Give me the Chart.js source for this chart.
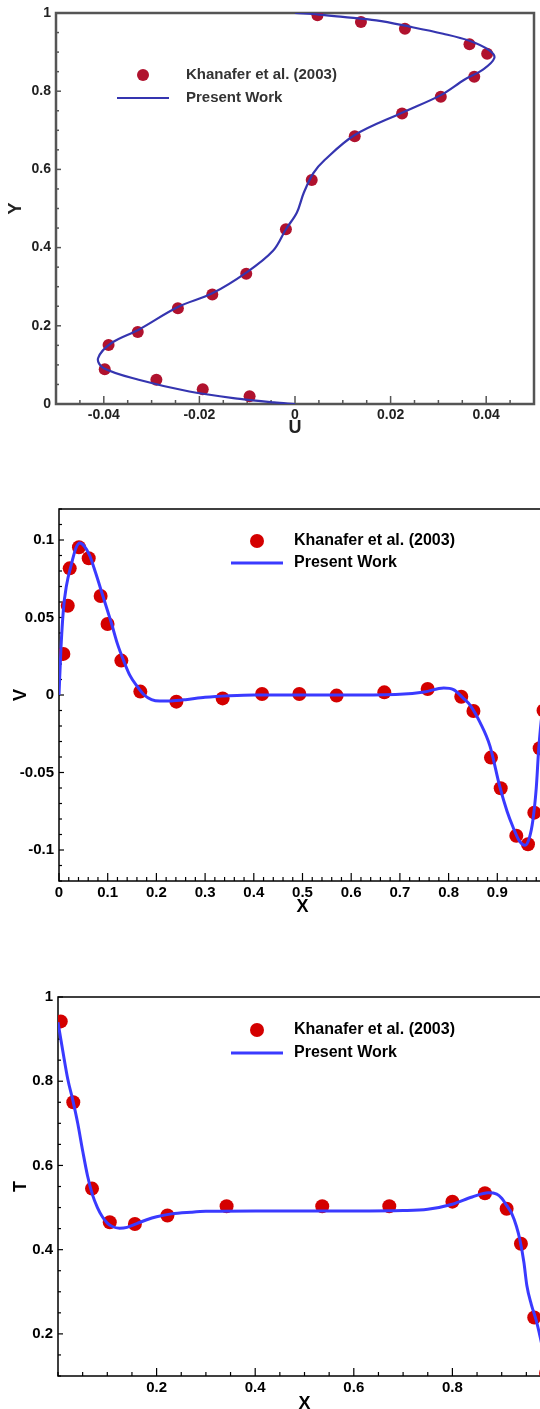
<!DOCTYPE html>
<html>
<head>
<meta charset="utf-8">
<title>Velocity and temperature profiles</title>
<script src="https://cdn.jsdelivr.net/npm/chart.js@4.4.1/dist/chart.umd.min.js"></script>
<style>
  html, body { margin: 0; padding: 0; background: #fff; overflow: hidden; width: 540px; height: 1409px; }
  .panel { position: absolute; left: 0; width: 540px; overflow: hidden; }
  .panel canvas { display: block; }
  #panelU { top: 0; height: 440px; }
  #panelV { top: 490px; height: 430px; }
  #panelT { top: 980px; height: 440px; }
  /* the U profile figure is a soft, low resolution scan */
  #uChart { filter: blur(0.6px); }
</style>
</head>
<body>
<div class="panel" id="panelU"><div style="position:relative;width:540px;height:440px"><canvas id="uChart"></canvas></div></div>
<div class="panel" id="panelV"><div style="position:relative;width:560px;height:430px"><canvas id="vChart"></canvas></div></div>
<div class="panel" id="panelT"><div style="position:relative;width:560px;height:440px"><canvas id="tChart"></canvas></div></div>

<script>
// ---- U velocity along the vertical mid-line ----
const refU = [0.0047, 0.0138, 0.0230, 0.0365, 0.0402, 0.0375, 0.0305, 0.0224, 0.0125, 0.0035,
              -0.0019, -0.0102, -0.0173, -0.0245, -0.0329, -0.0390, -0.0398, -0.0290, -0.0193, -0.0095];
const refY = [0.994, 0.977, 0.960, 0.920, 0.896, 0.837, 0.786, 0.743, 0.685, 0.573,
              0.447, 0.333, 0.280, 0.245, 0.184, 0.151, 0.089, 0.062, 0.038, 0.020];
const presentU = [0, 0.005, 0.010, 0.017, 0.024, 0.031, 0.0365, 0.0406, 0.0417, 0.0394, 0.0355,
                  0.0305, 0.0224, 0.0125, 0.0062, 0.0038, 0.0018, 0.0004, -0.0019, -0.0046, -0.0102,
                  -0.0173, -0.0245, -0.0327, -0.0384, -0.0412, -0.0401, -0.0327, -0.0221, -0.0115, -0.0044, 0];
const presentY = [1, 0.996, 0.99, 0.981, 0.965, 0.947, 0.929, 0.905, 0.885, 0.856, 0.83,
                  0.79, 0.745, 0.688, 0.624, 0.59, 0.539, 0.49, 0.447, 0.392, 0.336,
                  0.283, 0.248, 0.19, 0.156, 0.117, 0.092, 0.062, 0.032, 0.013, 0.004, 0];

// ---- V velocity along the horizontal mid-line ----
const refXv = [0.009, 0.018, 0.022, 0.041, 0.061, 0.0855, 0.0997, 0.128, 0.167, 0.241, 0.336, 0.417,
               0.4935, 0.570, 0.668, 0.757, 0.826, 0.851, 0.887, 0.907, 0.939, 0.963, 0.976, 0.987, 0.995];
const refV = [0.0265, 0.0576, 0.0817, 0.0953, 0.0882, 0.0639, 0.0458, 0.0222, 0.0022, -0.0043, -0.0022, 0.0006,
              0.0006, -0.0004, 0.0017, 0.0039, -0.0011, -0.0103, -0.0404, -0.0602, -0.0908, -0.0963, -0.0759, -0.0344, -0.0100];
const presentXv = [0, 0.004, 0.009, 0.015, 0.026, 0.035, 0.043, 0.052, 0.063, 0.075, 0.09, 0.1, 0.108, 0.12,
                   0.133, 0.145, 0.161, 0.175, 0.19, 0.207, 0.23, 0.26, 0.3, 0.35, 0.4, 0.5, 0.6, 0.7, 0.75,
                   0.79, 0.81, 0.83, 0.844, 0.865, 0.885, 0.905, 0.92, 0.932, 0.945, 0.957, 0.966, 0.973,
                   0.98, 0.985, 0.992, 1];
const presentV = [0, 0.03, 0.055, 0.07, 0.085, 0.095, 0.098, 0.096, 0.09, 0.079, 0.064, 0.054, 0.046, 0.033,
                  0.022, 0.013, 0.0054, 0, -0.003, -0.0039, -0.0038, -0.003, -0.0015, -0.0005, 0, 0, 0, 0.0005, 0.002,
                  0.0045, 0.0035, -0.002, -0.0065, -0.018, -0.033, -0.059, -0.075, -0.085, -0.094, -0.097, -0.092, -0.081,
                  -0.06, -0.035, -0.012, 0];

// ---- Temperature along the horizontal mid-line ----
const refXt = [0.0056, 0.031, 0.069, 0.105, 0.156, 0.222, 0.342, 0.536, 0.672, 0.800, 0.866, 0.910, 0.939, 0.966, 0.990];
const refT = [0.942, 0.750, 0.545, 0.465, 0.461, 0.481, 0.503, 0.503, 0.503, 0.514, 0.534, 0.497, 0.414, 0.239, 0.107];
const presentXt = [0, 0.01, 0.02, 0.03, 0.04, 0.05, 0.06, 0.07, 0.08, 0.09, 0.1, 0.11, 0.125, 0.14, 0.16,
                   0.18, 0.2, 0.23, 0.27, 0.3, 0.4, 0.5, 0.6, 0.7, 0.75, 0.8, 0.84, 0.873, 0.89, 0.9, 0.91,
                   0.92, 0.93, 0.937, 0.945, 0.951, 0.96, 0.97, 0.978, 0.985, 0.992, 1];
const presentT = [0.94, 0.87, 0.804, 0.755, 0.70, 0.635, 0.575, 0.53, 0.50, 0.478, 0.463, 0.455, 0.451, 0.453, 0.462,
                  0.471, 0.478, 0.485, 0.489, 0.491, 0.492, 0.492, 0.492, 0.493, 0.496, 0.508, 0.525, 0.535, 0.532, 0.522, 0.505,
                  0.487, 0.455, 0.423, 0.37, 0.315, 0.27, 0.232, 0.193, 0.155, 0.12, 0.05];

// tick labels
const uTicks = [-0.04, -0.02, 0, 0.02, 0.04];
const yTicks = [0, 0.2, 0.4, 0.6, 0.8, 1];
const xTicksV = [0, 0.1, 0.2, 0.3, 0.4, 0.5, 0.6, 0.7, 0.8, 0.9, 1];
const vTicks = [-0.1, -0.05, 0, 0.05, 0.1];
const xTicksT = [0.2, 0.4, 0.6, 0.8, 1];
const tTicks = [0.2, 0.4, 0.6, 0.8, 1];

const legendLabels = ['Khanafer et al. (2003)', 'Present Work'];

Chart.defaults.font.family = '"Liberation Sans", Arial, sans-serif';

const toPoints = (xs, ys) => xs.map((x, i) => ({ x: x, y: ys[i] }));
const fmt = v => String(Number(v.toFixed(4)));

// box around the plot plus inward major/minor ticks on left and bottom
const frameTicks = {
  id: 'frameTicks',
  beforeDatasetsDraw(chart, args, o) {
    const { ctx, chartArea: a } = chart;
    ctx.save();
    ctx.strokeStyle = o.color;
    ctx.lineWidth = o.tickWidth;
    const axis = (scale, step, horizontal) => {
      const majors = scale.ticks.map(t => t.value);
      for (let k = Math.ceil(scale.min / step - 1e-6); k * step <= scale.max + 1e-9; k++) {
        const v = k * step;
        const major = majors.some(m => Math.abs(m - v) < step / 10);
        const p = scale.getPixelForValue(v);
        ctx.beginPath();
        if (horizontal) {
          const len = major ? o.majorX : o.minorX;
          ctx.moveTo(p, a.bottom);
          ctx.lineTo(p, a.bottom - len);
        } else {
          const len = major ? o.majorY : o.minorY;
          ctx.moveTo(a.left, p);
          ctx.lineTo(a.left + len, p);
        }
        ctx.stroke();
      }
    };
    axis(chart.scales.x, o.stepX, true);
    axis(chart.scales.y, o.stepY, false);
    ctx.lineWidth = o.frameWidth;
    ctx.strokeRect(a.left, a.top, a.right - a.left, a.bottom - a.top);
    ctx.restore();
  }
};

// legend with a dot row and a line row
const keyBox = {
  id: 'keyBox',
  afterDatasetsDraw(chart, args, o) {
    const ctx = chart.ctx;
    const dots = chart.data.datasets[0];
    const line = chart.data.datasets[1];
    ctx.save();
    ctx.fillStyle = dots.backgroundColor;
    ctx.beginPath();
    ctx.arc(o.symbolX, o.row1, dots.pointRadius, 0, Math.PI * 2);
    ctx.fill();
    ctx.strokeStyle = line.borderColor;
    ctx.lineWidth = line.borderWidth;
    ctx.beginPath();
    ctx.moveTo(o.symbolX - o.lineHalf, o.row2);
    ctx.lineTo(o.symbolX + o.lineHalf, o.row2);
    ctx.stroke();
    ctx.fillStyle = o.color;
    ctx.font = o.font;
    ctx.textBaseline = 'middle';
    ctx.fillText(dots.label, o.textX, o.row1);
    ctx.fillText(line.label, o.textX, o.row2);
    ctx.restore();
  }
};

function makeChart(id, c) {
  const tickFont = { size: c.tickSize, weight: 'bold' };
  const titleFont = { size: 18, weight: 'bold', lineHeight: 1 };
  return new Chart(document.getElementById(id), {
    type: 'scatter',
    data: {
      datasets: [{
        label: legendLabels[0],
        data: c.dots,
        backgroundColor: c.dotColor,
        borderWidth: 0,
        pointRadius: c.dotRadius,
        showLine: false,
        order: 1
      }, {
        label: legendLabels[1],
        data: c.curve,
        borderColor: c.lineColor,
        borderWidth: c.lineWidth,
        pointRadius: 0,
        showLine: true,
        fill: false,
        tension: c.tension,
        cubicInterpolationMode: c.monotone ? 'monotone' : 'default',
        order: 0
      }]
    },
    options: {
      responsive: true,
      maintainAspectRatio: false,
      animation: false,
      layout: { padding: { top: c.top, right: c.right, left: 0, bottom: 0 } },
      plugins: {
        legend: { display: false },
        tooltip: { enabled: false },
        frameTicks: c.frame,
        keyBox: c.key
      },
      scales: {
        x: {
          type: 'linear',
          min: c.xMin,
          max: c.xMax,
          afterBuildTicks: s => { s.ticks = c.xTicks.map(v => ({ value: v })); },
          afterFit: s => { s.height = c.xAxisHeight; s.paddingLeft = 0; s.paddingRight = 0; },
          grid: { display: false, drawTicks: false },
          border: { display: false },
          ticks: { callback: fmt, font: tickFont, color: c.textColor, padding: 3, maxRotation: 0, autoSkip: false },
          title: { display: true, text: c.xTitle, font: titleFont, color: c.textColor, padding: { top: 0, bottom: c.xTitlePad } }
        },
        y: {
          type: 'linear',
          min: c.yMin,
          max: c.yMax,
          afterBuildTicks: s => { s.ticks = c.yTicks.map(v => ({ value: v })); },
          afterFit: s => { s.width = c.yAxisWidth; s.paddingTop = 0; s.paddingBottom = 0; },
          grid: { display: false, drawTicks: false },
          border: { display: false },
          ticks: { callback: fmt, font: tickFont, color: c.textColor, padding: 5, autoSkip: false },
          title: { display: true, text: c.yTitle, font: titleFont, color: c.textColor, padding: { top: c.yTitlePad, bottom: 0 } }
        }
      }
    },
    plugins: [frameTicks, keyBox]
  });
}

makeChart('uChart', {
  dots: toPoints(refU, refY),
  curve: toPoints(presentU, presentY),
  dotColor: '#b0122e', dotRadius: 6,
  lineColor: '#3535b0', lineWidth: 2.2, tension: 0.35, monotone: false,
  xMin: -0.05, xMax: 0.05, yMin: 0, yMax: 1,
  xTicks: uTicks, yTicks: yTicks,
  xTitle: 'U', yTitle: 'Y',
  tickSize: 14, textColor: '#222',
  top: 13, right: 4, xAxisHeight: 36, yAxisWidth: 56,
  xTitlePad: 3, yTitlePad: 7,
  frame: { color: '#555', frameWidth: 2.5, tickWidth: 1.5, stepX: 0.005, stepY: 0.05, majorX: 8, minorX: 4, majorY: 5, minorY: 3 },
  key: { symbolX: 143, row1: 75, row2: 98, lineHalf: 26, textX: 186, font: 'bold 15px "Liberation Sans", Arial, sans-serif', color: '#333' }
});

makeChart('vChart', {
  dots: toPoints(refXv, refV),
  curve: toPoints(presentXv, presentV),
  dotColor: '#d40000', dotRadius: 7,
  lineColor: '#3a3aff', lineWidth: 3, tension: 0.4, monotone: true,
  xMin: 0, xMax: 1, yMin: -0.12, yMax: 0.12,
  xTicks: xTicksV, yTicks: vTicks,
  xTitle: 'X', yTitle: 'V',
  tickSize: 15, textColor: '#000',
  top: 19, right: 14, xAxisHeight: 39, yAxisWidth: 59,
  xTitlePad: 4, yTitlePad: 12,
  frame: { color: '#000', frameWidth: 1.5, tickWidth: 1.2, stepX: 0.02, stepY: 0.01, majorX: 8, minorX: 4, majorY: 5, minorY: 3 },
  key: { symbolX: 257, row1: 51, row2: 73, lineHalf: 26, textX: 294, font: 'bold 16px "Liberation Sans", Arial, sans-serif', color: '#000' }
});

makeChart('tChart', {
  dots: toPoints(refXt, refT),
  curve: toPoints(presentXt, presentT),
  dotColor: '#d40000', dotRadius: 7,
  lineColor: '#3a3aff', lineWidth: 3, tension: 0.4, monotone: true,
  xMin: 0, xMax: 1, yMin: 0.1, yMax: 1,
  xTicks: xTicksT, yTicks: tTicks,
  xTitle: 'X', yTitle: 'T',
  tickSize: 15, textColor: '#000',
  top: 17, right: 9, xAxisHeight: 44, yAxisWidth: 58,
  xTitlePad: 7, yTitlePad: 12,
  frame: { color: '#000', frameWidth: 1.5, tickWidth: 1.2, stepX: 0.05, stepY: 0.05, majorX: 8, minorX: 4, majorY: 5, minorY: 3 },
  key: { symbolX: 257, row1: 50, row2: 73, lineHalf: 26, textX: 294, font: 'bold 16px "Liberation Sans", Arial, sans-serif', color: '#000' }
});
</script>
</body>
</html>
